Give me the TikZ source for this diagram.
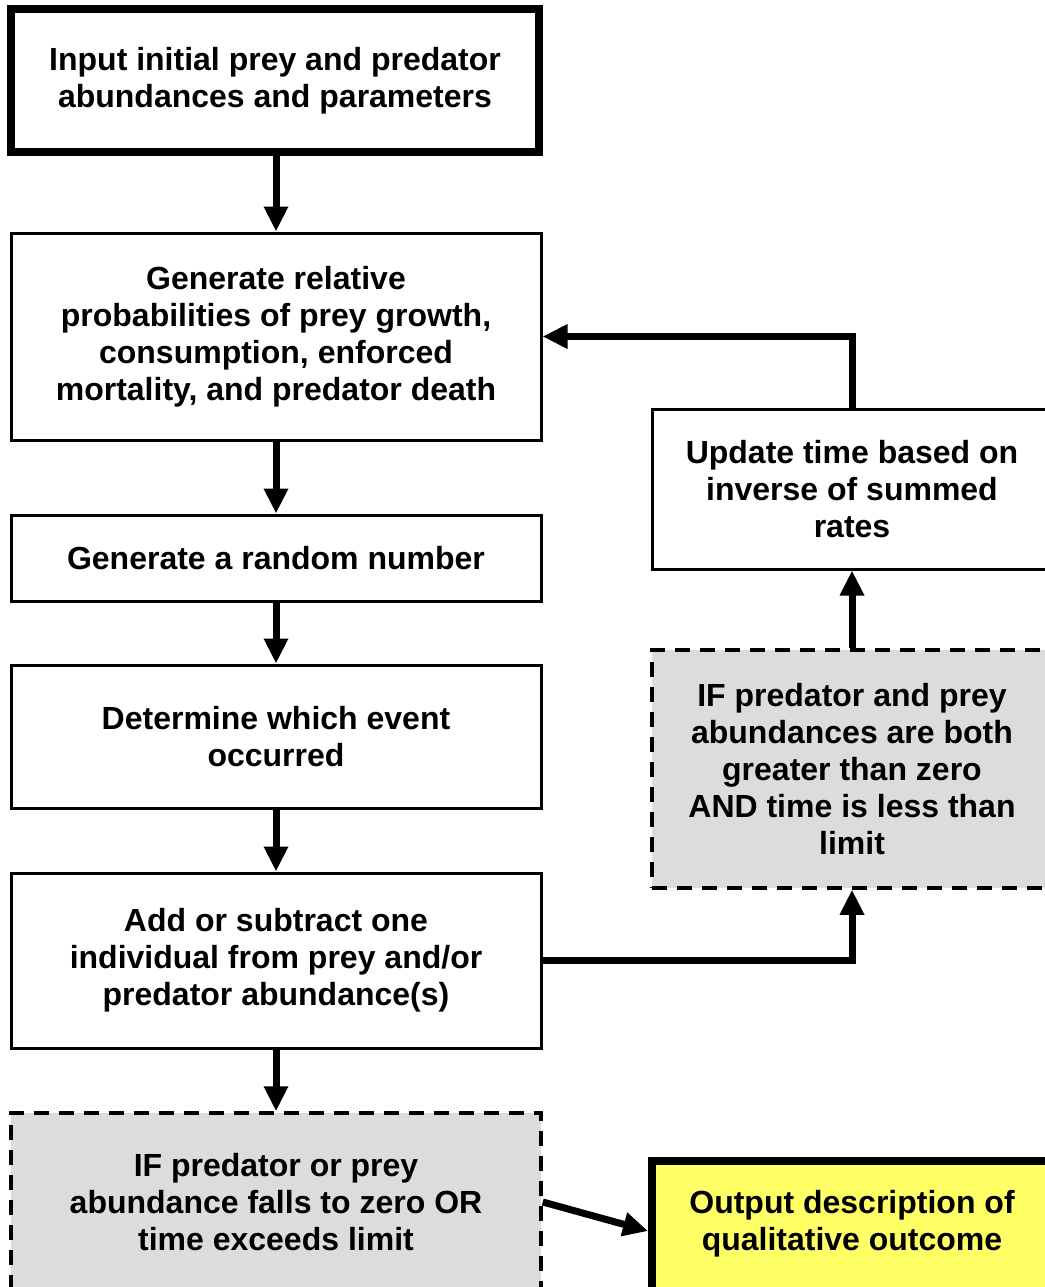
\documentclass[tikz,border=0pt]{standalone}
\usepackage{fontspec}
\setmainfont{Liberation Sans}
\usetikzlibrary{arrows.meta}
\definecolor{condgray}{HTML}{DCDCDC}
\definecolor{outyellow}{HTML}{FFFF66}
\begin{document}
\begin{tikzpicture}[x=1pt,y=-1pt,
  every node/.style={font=\fontsize{32}{37}\selectfont\bfseries, align=center, inner sep=0pt},
  box/.style={draw, line width=3pt, rectangle, minimum width=530pt},
  thickbox/.style={draw, line width=8pt, rectangle},
  condbox/.style={draw, line width=3.5pt, fill=condgray, dash pattern=on 15pt off 10pt, rectangle},
  arr/.style={line width=7pt, -{Triangle[length=25pt,width=23pt]}}
]
\fill[white] (0,0) rectangle (1044,1287);
\useasboundingbox (0,0) rectangle (1044,1287);

\node[thickbox, minimum width=528pt, minimum height=143pt] (inp) at (275,80.5)
  {Input initial prey and predator\\abundances and parameters};
\node[box, minimum height=207pt] (gen) at (276,336.5)
  {Generate relative\\probabilities of prey growth,\\consumption, enforced\\mortality, and predator death};
\node[box, minimum height=86pt] (rnd) at (276,558)
  {Generate a random number};
\node[box, minimum height=143pt] (det) at (276,736.5)
  {Determine which event\\occurred};
\node[box, minimum height=175pt] (add) at (276,960.5)
  {Add or subtract one\\individual from prey and/or\\predator abundance(s)};
\node[condbox, minimum width=530pt, minimum height=178pt] (stop) at (276,1202)
  {IF predator or prey\\abundance falls to zero OR\\time exceeds limit};

\node[box, minimum width=400pt, minimum height=160pt] (upd) at (852,489)
  {Update time based on\\inverse of summed\\rates};
\node[condbox, minimum width=400pt, minimum height=238pt] (cont) at (852,769)
  {IF predator and prey\\abundances are both\\greater than zero\\AND time is less than\\limit};
\node[thickbox, fill=outyellow, minimum width=400pt, minimum height=134pt] (out) at (852,1228) {};
\node (outtxt) at ([yshift=4pt]out.center) {Output description of\\qualitative outcome};

\draw[arr] (gen.north |- inp.south) -- (gen.north);
\draw[arr] (gen.south) -- (rnd.north);
\draw[arr] (rnd.south) -- (det.north);
\draw[arr] (det.south) -- (add.north);
\draw[arr] (add.south) -- (stop.north);
\draw[arr] (add.east) -| (cont.south);
\draw[arr] (cont.north) -- (upd.south);
\draw[arr] (upd.north) |- (gen.east);
\draw[arr] (stop.east) -- ([yshift=-3pt]out.west);
\end{tikzpicture}
\end{document}
